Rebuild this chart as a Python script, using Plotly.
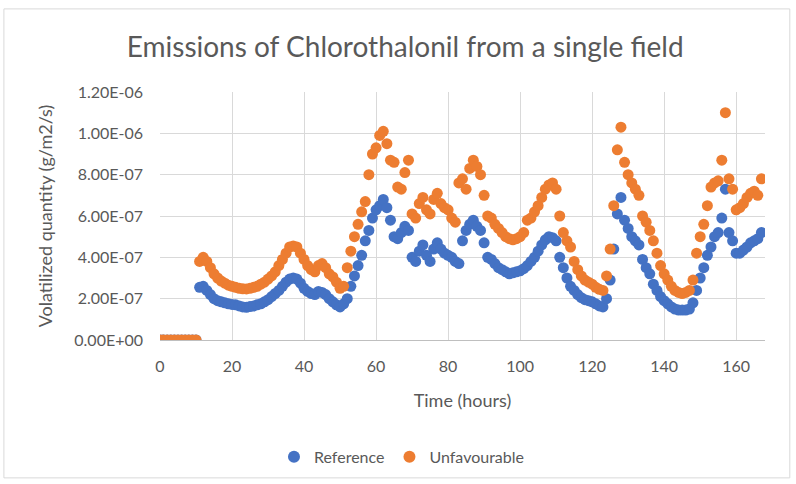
import plotly.graph_objects as go

# Hourly volatilization flux over one week, in units of 1e-7 g/m2/s
hours = list(range(168))

reference = [
    0, 0, 0, 0, 0, 0, 0, 0, 0, 0, 0,
    2.55, 2.6, 2.4, 2.2, 2.0, 1.9, 1.85, 1.8, 1.75, 1.72,
    1.7, 1.65, 1.6, 1.58, 1.62, 1.65, 1.7, 1.75, 1.85, 1.95,
    2.1, 2.25, 2.4, 2.6, 2.8, 2.95, 3.0, 2.95, 2.75, 2.5,
    2.35, 2.25, 2.2, 2.35, 2.3, 2.2, 2.0, 1.85, 1.7, 1.6,
    1.75, 2.0, 2.6, 3.1, 3.6, 4.1, 4.8, 5.3, 5.9, 6.3,
    6.5, 6.8, 6.4, 5.8, 5.0, 4.9, 5.2, 5.5, 5.3, 4.0,
    3.8, 4.3, 4.6, 4.1, 3.8, 4.4, 4.7, 4.4, 4.2, 4.1,
    4.0, 3.8, 3.7, 4.8, 5.3, 5.6, 5.8, 5.5, 5.3, 4.7,
    4.0, 3.9, 3.7, 3.5, 3.4, 3.3, 3.2, 3.25, 3.3, 3.35,
    3.45, 3.6, 3.8, 4.0, 4.3, 4.6, 4.85, 5.0, 4.95, 4.8,
    4.0, 3.5, 3.0, 2.6, 2.4, 2.2, 2.05, 1.95, 1.9, 1.85,
    1.75, 1.65, 1.6, 2.0, 2.9, 4.4, 6.1, 6.9, 5.8, 5.4,
    5.0, 4.8, 4.6, 3.9, 3.5, 3.2, 2.7, 2.4, 2.1, 1.9,
    1.75, 1.6, 1.5, 1.45, 1.45, 1.45, 1.5, 1.8, 2.4, 3.0,
    3.5, 4.1, 4.5, 5.0, 5.2, 5.9, 7.3, 5.2, 4.8, 4.2,
    4.2, 4.35, 4.5, 4.7, 4.8, 4.9, 5.2,
]

unfavourable = [
    0, 0, 0, 0, 0, 0, 0, 0, 0, 0, 0,
    3.8, 4.0, 3.8, 3.5, 3.2, 3.0, 2.85, 2.75, 2.65, 2.6,
    2.55, 2.5, 2.48, 2.47, 2.5, 2.55, 2.6, 2.7, 2.8, 2.95,
    3.1, 3.3, 3.6, 3.9, 4.2, 4.5, 4.55, 4.5, 4.2, 3.9,
    3.6, 3.4, 3.3, 3.6, 3.7, 3.5, 3.2, 3.05, 2.8, 2.5,
    2.6, 3.5, 4.3, 5.0, 5.6, 6.2, 6.7, 8.0, 9.0, 9.3,
    9.9, 10.1, 9.5, 8.7, 8.6, 7.4, 7.3, 8.1, 8.7, 6.1,
    5.9, 6.6, 6.9, 6.3, 6.1, 6.8, 7.1, 6.6, 6.4, 6.3,
    5.9, 5.7, 7.6, 7.8, 7.3, 8.3, 8.7, 8.4, 8.0, 7.0,
    6.0, 5.9, 5.6, 5.4, 5.2, 5.0, 4.9, 4.85, 4.9, 5.0,
    5.2, 5.8, 5.9, 6.2, 6.5, 6.9, 7.3, 7.5, 7.6, 7.3,
    6.0, 5.2, 4.8, 4.5, 3.8, 3.4, 3.1, 2.9, 2.8, 2.7,
    2.55, 2.45, 2.4, 3.1, 4.4, 6.5, 9.2, 10.3, 8.6, 8.0,
    7.6, 7.3, 7.0, 6.0, 5.7, 5.3, 4.8, 4.2, 3.6, 3.2,
    2.9, 2.6, 2.4, 2.3, 2.25, 2.3, 2.4, 2.9, 4.2, 5.0,
    5.6, 6.5, 7.4, 7.6, 7.7, 8.7, 11.0, 7.8, 7.3, 6.3,
    6.4, 6.6, 6.9, 7.1, 7.2, 7.0, 7.8,
]

SCALE = 1e-7

y_tick_vals = [0, 2e-7, 4e-7, 6e-7, 8e-7, 1e-6, 1.2e-6]
y_tick_text = ["0.00E+00", "2.00E-07", "4.00E-07", "6.00E-07",
               "8.00E-07", "1.00E-06", "1.20E-06"]
x_tick_vals = [0, 20, 40, 60, 80, 100, 120, 140, 160]

FONT = "Lato, Open Sans, sans-serif"
TEXT = "#595959"
GRID = "#d9d9d9"

fig = go.Figure()
fig.add_trace(go.Scatter(
    x=hours, y=[v * SCALE for v in reference], mode="markers",
    name="Reference",
    marker=dict(color="#4472C4", size=11, line=dict(width=0)),
))
fig.add_trace(go.Scatter(
    x=hours, y=[v * SCALE for v in unfavourable], mode="markers",
    name="Unfavourable",
    marker=dict(color="#ED7D31", size=11, line=dict(width=0)),
))

fig.update_layout(
    width=796, height=484,
    margin=dict(l=160, r=31, t=92, b=144),
    paper_bgcolor="white", plot_bgcolor="white",
    font=dict(family=FONT, color=TEXT, size=15),
    title=dict(
        text="Emissions of Chlorothalonil from a single field",
        x=0.509, xref="container", xanchor="center",
        y=0.903, yref="container", yanchor="middle",
        font=dict(family=FONT, size=28, color=TEXT),
    ),
    showlegend=True,
    legend=dict(
        orientation="h", xref="container", yref="container",
        x=0.505, xanchor="center", y=0.056, yanchor="middle",
        font=dict(family=FONT, size=16, color=TEXT),
        itemsizing="constant", traceorder="normal", itemwidth=30,
    ),
    shapes=[dict(
        type="rect", xref="paper", yref="paper",
        x0=-0.258, x1=1.041, y0=-0.556, y1=1.335,
        line=dict(color="#d9d9d9", width=1), fillcolor="rgba(0,0,0,0)",
        layer="below",
    )],
)

fig.update_xaxes(
    range=[0, 168], tickvals=x_tick_vals,
    showgrid=True, gridcolor=GRID, gridwidth=1,
    zeroline=False, showline=True, linecolor="#bfbfbf", linewidth=1,
    ticks="", ticklabelstandoff=12,
    tickfont=dict(family=FONT, size=16, color=TEXT),
    title=dict(text="Time (hours)", standoff=20,
               font=dict(family=FONT, size=18, color=TEXT)),
)
fig.update_yaxes(
    range=[0, 1.2e-6], tickvals=y_tick_vals, ticktext=y_tick_text,
    showgrid=True, gridcolor=GRID, gridwidth=1,
    zeroline=False, showline=False,
    ticks="", ticklabelstandoff=16,
    tickfont=dict(family=FONT, size=16, color=TEXT),
    title=dict(text="Volatilized quantity (g/m2/s)", standoff=16,
               font=dict(family=FONT, size=18, color=TEXT)),
)

fig.write_html("out.html")
